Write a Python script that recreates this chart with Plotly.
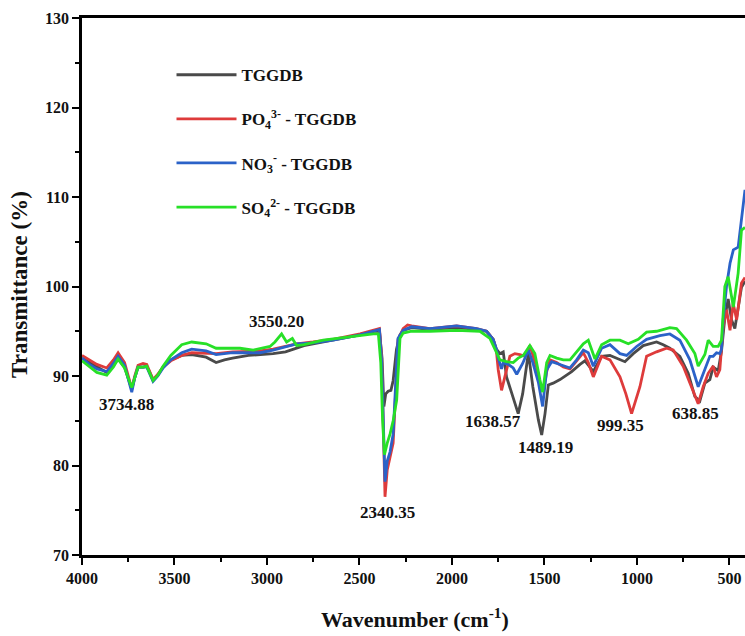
import plotly.graph_objects as go

# ---------------- data ----------------
wn_tggdb = [4000, 3960, 3920, 3866, 3830, 3805, 3770, 3731, 3715, 3697, 3670, 3650, 3616, 3590, 3562,
            3520, 3461, 3407, 3329, 3275, 3230, 3186, 3100, 3038, 2967, 2900, 2840, 2800, 2751, 2643,
            2497, 2416, 2392, 2378, 2368, 2358, 2345, 2330, 2318, 2300, 2281, 2264, 2218, 2119, 1975,
            1867, 1813, 1777, 1760, 1741, 1723, 1705, 1669, 1642, 1618, 1587, 1563, 1533, 1515, 1497,
            1479, 1453, 1416, 1380, 1353, 1308, 1281, 1236, 1191, 1146, 1110, 1065, 1020, 966, 894,
            858, 822, 768, 723, 687, 660, 633, 606, 588, 561, 543, 525, 507, 489, 471, 453, 435, 416]
t_tggdb = [92.0, 91.5, 91.0, 90.4, 91.2, 91.9, 91.0, 88.5, 89.8, 91.0, 91.0, 91.1, 89.6, 90.1, 91.0,
           91.8, 92.3, 92.4, 92.1, 91.5, 91.8, 92.0, 92.3, 92.4, 92.5, 92.7, 93.1, 93.4, 93.6, 94.0,
           94.6, 95.0, 95.0, 92.0, 86.6, 88.0, 88.3, 88.4, 89.5, 93.0, 94.6, 95.1, 95.4, 95.2, 95.4,
           95.2, 95.0, 94.1, 93.0, 92.5, 92.7, 89.9, 87.4, 85.8, 88.0, 92.6, 88.8, 85.1, 83.4, 85.8,
           89.0, 89.2, 89.6, 90.1, 90.5, 91.3, 91.7, 90.5, 92.2, 92.3, 92.0, 91.6, 92.5, 93.4, 93.8,
           93.5, 93.1, 92.2, 90.3, 87.7, 87.2, 89.2, 89.6, 91.0, 90.6, 92.8, 96.5, 98.6, 96.3, 95.3,
           97.6, 99.9, 100.6]

wn_po4 = [4000, 3960, 3920, 3866, 3830, 3805, 3770, 3731, 3715, 3697, 3670, 3650, 3616, 3590, 3562,
          3520, 3461, 3407, 3329, 3275, 3186, 3100, 3038, 2967, 2900, 2840, 2751, 2643, 2497, 2416,
          2392, 2380, 2370, 2362, 2350, 2335, 2318, 2305, 2292, 2264, 2240, 2218, 2119, 1975, 1867,
          1813, 1777, 1760, 1750, 1732, 1714, 1687, 1660, 1633, 1606, 1579, 1543, 1525, 1506, 1488,
          1470, 1434, 1398, 1362, 1326, 1290, 1263, 1236, 1191, 1146, 1092, 1060, 1029, 984, 948,
          894, 840, 804, 750, 696, 669, 642, 615, 588, 570, 552, 534, 516, 497, 480, 461, 435, 416]
t_po4 = [92.3, 91.8, 91.3, 90.9, 91.8, 92.6, 91.5, 88.6, 90.0, 91.2, 91.4, 91.3, 89.6, 90.2, 91.0,
         91.7, 92.3, 92.6, 92.5, 92.5, 92.7, 92.8, 92.8, 93.0, 93.3, 93.6, 93.8, 94.1, 94.7, 95.2,
         95.3, 92.0, 82.0, 76.5, 79.5, 81.0, 82.5, 88.0, 94.0, 95.3, 95.7, 95.6, 95.3, 95.6, 95.3,
         95.0, 94.1, 92.8, 90.7, 88.4, 89.8, 92.2, 92.5, 92.4, 92.2, 93.4, 91.0, 89.0, 88.3, 90.5,
         91.8, 91.5, 91.0, 90.8, 91.7, 92.6, 91.5, 89.9, 92.2, 91.8, 89.9, 88.0, 85.8, 88.8, 92.2,
         92.7, 93.1, 92.9, 91.1, 88.4, 86.9, 88.8, 90.3, 91.1, 89.9, 90.7, 95.5, 97.4, 95.1, 98.1,
         96.3, 100.4, 101.0]

wn_no3 = [4000, 3960, 3920, 3866, 3830, 3805, 3770, 3731, 3715, 3697, 3670, 3650, 3616, 3590, 3562,
          3520, 3461, 3407, 3329, 3275, 3186, 3100, 3038, 2967, 2900, 2840, 2751, 2643, 2497, 2416,
          2392, 2380, 2370, 2362, 2350, 2335, 2318, 2305, 2292, 2264, 2218, 2119, 1975, 1867, 1813,
          1777, 1760, 1750, 1732, 1723, 1696, 1669, 1650, 1618, 1587, 1563, 1533, 1510, 1488, 1461,
          1416, 1362, 1326, 1290, 1263, 1236, 1191, 1146, 1092, 1056, 1002, 948, 876, 822, 768,
          714, 669, 633, 606, 588, 570, 552, 543, 534, 516, 497, 479, 453, 435, 416]
t_no3 = [92.0, 91.3, 90.8, 90.5, 91.4, 92.2, 91.2, 88.2, 89.8, 91.0, 91.0, 91.0, 89.4, 90.0, 90.9,
         91.8, 92.6, 93.0, 92.8, 92.4, 92.6, 92.6, 92.6, 92.9, 93.3, 93.6, 93.7, 94.0, 94.6, 95.1,
         95.2, 91.5, 83.0, 78.2, 80.5, 81.5, 83.5, 89.0, 94.2, 95.1, 95.5, 95.3, 95.6, 95.3, 95.0,
         94.1, 93.0, 92.0, 90.8, 91.5, 91.3, 90.9, 90.2, 91.4, 92.9, 91.5, 89.3, 86.6, 90.7, 91.6,
         91.3, 90.9, 91.8, 92.9, 92.6, 91.1, 93.1, 93.5, 92.5, 92.3, 93.3, 94.1, 94.5, 94.7, 94.0,
         91.8, 88.8, 90.7, 92.2, 92.2, 92.6, 92.5, 93.0, 96.3, 100.0, 102.6, 104.1, 104.4, 107.8,
         110.8]

wn_so4 = [4000, 3960, 3920, 3866, 3830, 3805, 3770, 3731, 3715, 3697, 3670, 3650, 3616, 3590, 3562,
          3520, 3461, 3407, 3329, 3275, 3186, 3146, 3074, 2984, 2957, 2921, 2894, 2863, 2840, 2800,
          2696, 2551, 2425, 2398, 2385, 2375, 2365, 2350, 2335, 2318, 2299, 2281, 2264, 2218, 2119,
          1975, 1849, 1795, 1768, 1741, 1705, 1669, 1642, 1615, 1579, 1552, 1525, 1510, 1488, 1470,
          1434, 1398, 1362, 1326, 1290, 1263, 1227, 1191, 1146, 1092, 1047, 993, 948, 894, 822,
          786, 732, 687, 669, 633, 615, 588, 561, 543, 525, 507, 479, 453, 435, 416]
t_so4 = [91.7, 91.0, 90.4, 90.1, 91.0, 91.9, 90.9, 88.7, 89.9, 91.0, 91.0, 91.1, 89.5, 90.1, 91.1,
         92.3, 93.5, 93.8, 93.6, 93.1, 93.1, 93.1, 92.9, 93.3, 93.8, 94.7, 93.8, 94.2, 93.4, 93.5,
         94.0, 94.4, 94.7, 94.7, 91.5, 85.0, 81.2, 82.5, 83.5, 85.0, 87.3, 94.2, 94.8, 95.0, 95.0,
         95.1, 95.0, 94.2, 92.9, 91.8, 91.6, 91.5, 92.0, 92.3, 93.4, 92.5, 89.6, 88.2, 91.5, 92.3,
         92.0, 91.8, 91.8, 92.7, 93.6, 94.0, 91.9, 93.5, 94.0, 94.0, 93.6, 94.1, 94.9, 95.0, 95.4,
         95.3, 94.0, 92.5, 91.1, 92.4, 94.0, 93.3, 93.3, 94.0, 100.0, 101.1, 97.7, 101.5, 106.3,
         106.6]

series_names = ["TGGDB",
                "PO<sub>4</sub><sup>3-</sup> - TGGDB",
                "NO<sub>3</sub><sup>-</sup> - TGGDB",
                "SO<sub>4</sub><sup>2-</sup> - TGGDB"]
series_colors = ["#4a4a4a", "#de3b3b", "#2b62c8", "#27e027"]

peak_labels = ["3734.88", "3550.20", "2340.35", "1638.57", "1489.19", "999.35", "638.85"]
peak_label_x = [3762, 2946, 2351, 1779, 1497, 1087, 681]
peak_label_y = [86.8, 96.1, 74.7, 84.9, 82.0, 84.5, 85.8]

x_tick_vals = [4000, 3500, 3000, 2500, 2000, 1500, 1000, 500]
y_tick_vals = [70, 80, 90, 100, 110, 120, 130]

# ---------------- figure ----------------
FONT = "Liberation Serif, Times New Roman, serif"
fig = go.Figure()
xs = [wn_tggdb, wn_po4, wn_no3, wn_so4]
ys = [t_tggdb, t_po4, t_no3, t_so4]
for i, (x, y) in enumerate(zip(xs, ys)):
    fig.add_trace(go.Scatter(
        x=x, y=y, mode="lines", name=series_names[i],
        line=dict(color=series_colors[i], width=2.8),
        legendgroup=f"g{i}", showlegend=True,
    ))

for txt, lx, ly in zip(peak_labels, peak_label_x, peak_label_y):
    fig.add_annotation(x=lx, y=ly, text=f"<b>{txt}</b>", showarrow=False,
                       font=dict(family=FONT, size=17, color="#111"),
                       xanchor="center", yanchor="middle")

axis_common = dict(
    showline=True, linecolor="black", linewidth=2.6,
    ticks="outside", ticklen=7, tickwidth=2.4, tickcolor="black",
    showgrid=False, zeroline=False,
    tickfont=dict(family=FONT, size=16, color="#111", weight="bold"),
)
fig.update_xaxes(range=[4000, 416], tickvals=x_tick_vals, mirror=True,
                 minor=dict(dtick=250, ticklen=4, tickwidth=2, tickcolor="black", ticks="outside"),
                 **axis_common)
fig.update_yaxes(range=[70, 130], tickvals=y_tick_vals, mirror=False,
                 minor=dict(dtick=5, ticklen=4, tickwidth=2, tickcolor="black", ticks="outside"),
                 **axis_common)

# axis titles
fig.add_annotation(xref="paper", yref="paper", x=-0.0935, y=0.503, textangle=-90,
                   text="<b>Transmittance (%)</b>", showarrow=False,
                   font=dict(family=FONT, size=23, color="#111"),
                   xanchor="center", yanchor="middle")
fig.add_annotation(xref="paper", yref="paper", x=0.502, y=-0.118,
                   text="<b>Wavenumber (cm<sup>-1</sup>)</b>", showarrow=False,
                   font=dict(family=FONT, size=22, color="#111"),
                   xanchor="center", yanchor="middle")

fig.update_layout(
    width=745, height=636,
    margin=dict(l=82, r=0, t=18, b=81),
    paper_bgcolor="white", plot_bgcolor="white",
    showlegend=True,
    legend=dict(x=0.135, y=0.927, xanchor="left", yanchor="top",
                bgcolor="rgba(0,0,0,0)", itemwidth=60, tracegroupgap=19,
                traceorder="grouped",
                font=dict(family=FONT, size=17, color="#111", weight="bold")),
)

fig.write_html("out.html")
